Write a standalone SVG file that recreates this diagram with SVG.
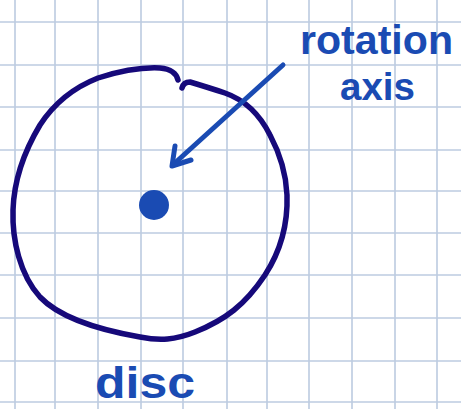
<svg xmlns="http://www.w3.org/2000/svg" width="461" height="409" viewBox="0 0 461 409">
<style>
.grid line{stroke:#bccbe0;stroke-width:1.6}
.disc{fill:none;stroke:#16097a;stroke-width:5.5;stroke-linecap:round;stroke-linejoin:round}
.pen{fill:none;stroke:#1a4bb3;stroke-width:5;stroke-linecap:round;stroke-linejoin:round}
.lbl{font-family:"Liberation Sans",Arial,sans-serif;font-weight:bold;fill:#1a4bb3}
</style>
<rect width="461" height="409" fill="#ffffff"/>
<g class="grid" id="grid">
<line x1="15" y1="0" x2="15" y2="409"/><line x1="55" y1="0" x2="55" y2="409"/><line x1="98" y1="0" x2="98" y2="409"/><line x1="141" y1="0" x2="141" y2="409"/><line x1="183" y1="0" x2="183" y2="409"/><line x1="227" y1="0" x2="227" y2="409"/><line x1="267" y1="0" x2="267" y2="409"/><line x1="309" y1="0" x2="309" y2="409"/><line x1="352" y1="0" x2="352" y2="409"/><line x1="395" y1="0" x2="395" y2="409"/><line x1="437" y1="0" x2="437" y2="409"/>
<line x1="0" y1="22" x2="461" y2="22"/><line x1="0" y1="65" x2="461" y2="65"/><line x1="0" y1="107" x2="461" y2="107"/><line x1="0" y1="150" x2="461" y2="150"/><line x1="0" y1="191" x2="461" y2="191"/><line x1="0" y1="233" x2="461" y2="233"/><line x1="0" y1="275" x2="461" y2="275"/><line x1="0" y1="318" x2="461" y2="318"/><line x1="0" y1="361" x2="461" y2="361"/><line x1="0" y1="402" x2="461" y2="402"/>
</g>
<g id="disc">
<path class="disc" d="M178,80 C176,72 170,69 160,68 C140,67 120,71 98,78 C75,87 55,102 40,125 C25,150 14,180 13,210 C12,240 20,275 40,297 C60,318 100,330 140,337 C160,341 175,340 195,332 C225,320 245,305 265,275 C280,252 288,225 287,195 C286,170 278,150 270,135 C260,115 245,100 225,93 C210,88 200,85 190,82 C186,82 183,84 182,88"/>
<text class="lbl" x="95" y="398" font-size="44" textLength="100" lengthAdjust="spacingAndGlyphs">disc</text>
</g>
<g id="axis-point">
<circle cx="154" cy="205" r="15" fill="#1a4bb3"/>
</g>
<g id="rotation-axis-label">
<text class="lbl" x="300" y="54" font-size="41" textLength="153" lengthAdjust="spacingAndGlyphs">rotation</text>
<text class="lbl" x="340" y="100" font-size="38" textLength="75" lengthAdjust="spacingAndGlyphs">axis</text>
</g>
<g id="connectors">
<path class="pen" d="M283,65 L176,162"/>
<path class="pen" d="M175,146 L172,166 L191,160"/>
</g>
</svg>
